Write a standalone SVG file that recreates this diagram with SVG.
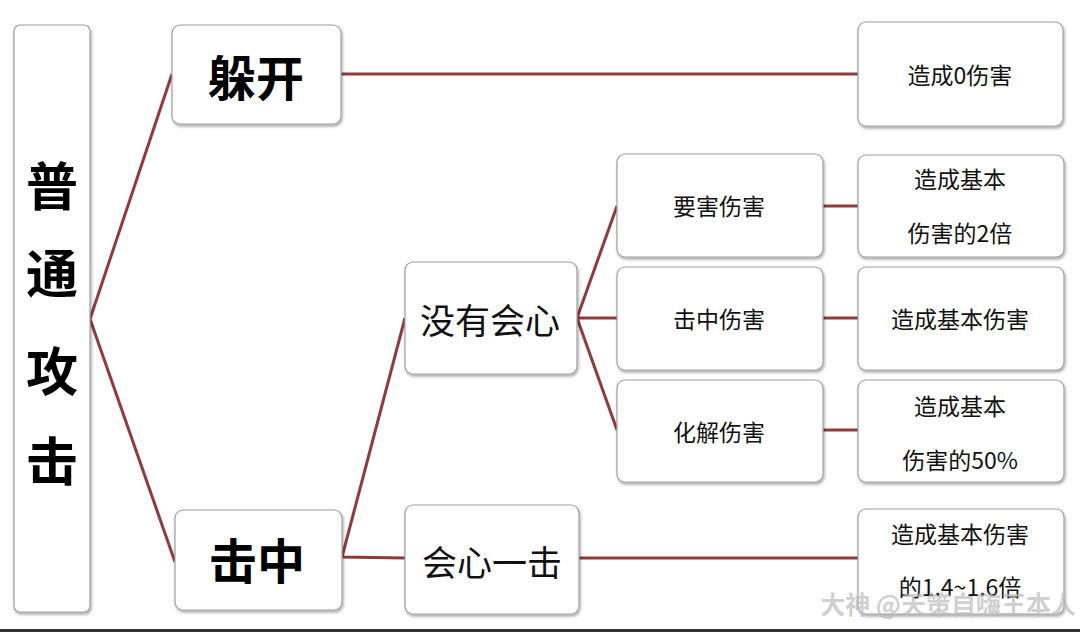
<svg xmlns="http://www.w3.org/2000/svg" width="1080" height="632" viewBox="0 0 1080 632">
<defs>
<filter id="sh" x="-10%" y="-10%" width="120%" height="125%">
<feDropShadow dx="1" dy="2" stdDeviation="1.5" flood-color="#000" flood-opacity="0.35"/>
</filter>
<style>
.box{fill:#fff;stroke:#a0a0a0;stroke-width:1.2;filter:url(#sh)}
.t{font-family:"Noto Sans CJK SC","Noto Sans",sans-serif;fill:#111;text-anchor:middle;dominant-baseline:central}
.b{font-weight:bold;fill:#000}
.s{font-size:23px}
.m{font-size:35px}
.c line,.c polyline{stroke:#8e3b3b;stroke-width:3;fill:none}
</style>
</defs>
<rect width="1080" height="632" fill="#fff"/>
<g class="c" id="connectors">
<polyline points="172,74 90,319 175,562"/>
<line x1="341" y1="74" x2="858" y2="74"/>
<polyline points="405,318 342,557 405,558"/>
<polyline points="617,206 577,318 617,430"/>
<line x1="577" y1="318" x2="617" y2="318"/>
<line x1="823" y1="206" x2="858" y2="206"/>
<line x1="823" y1="318" x2="858" y2="318"/>
<line x1="823" y1="430" x2="858" y2="430"/>
<line x1="579" y1="558" x2="858" y2="558"/>
</g>
<g id="root"><rect class="box" x="14" y="25" width="76" height="587" rx="6"/>
<text class="t b" font-size="52" x="52" y="183">普</text>
<text class="t b" font-size="52" x="52" y="270">通</text>
<text class="t b" font-size="52" x="52" y="368">攻</text>
<text class="t b" font-size="52" x="52" y="458">击</text></g>
<g id="dodge"><rect class="box" x="172" y="25" width="169" height="99" rx="8"/><text class="t b" font-size="48" x="256" y="75">躲开</text></g>
<g id="hit"><rect class="box" x="175" y="510" width="167" height="100" rx="8"/><text class="t b" font-size="48" x="257" y="558">击中</text></g>
<g id="nocrit"><rect class="box" x="405" y="262" width="172" height="112" rx="8"/><text class="t m" x="490" y="318">没有会心</text></g>
<g id="crit"><rect class="box" x="405" y="505" width="174" height="109" rx="8"/><text class="t m" x="492" y="560">会心一击</text></g>
<g id="vital"><rect class="box" x="617" y="154" width="206" height="103" rx="8"/><text class="t s" x="719" y="205">要害伤害</text></g>
<g id="normal"><rect class="box" x="617" y="267" width="206" height="103" rx="8"/><text class="t s" x="719" y="318">击中伤害</text></g>
<g id="resolve"><rect class="box" x="617" y="380" width="206" height="102" rx="8"/><text class="t s" x="719" y="431">化解伤害</text></g>
<g id="r0"><rect class="box" x="858" y="22" width="205" height="104" rx="8"/><text class="t s" x="960" y="74">造成0伤害</text></g>
<g id="r1"><rect class="box" x="858" y="155" width="206" height="102" rx="8"/><text class="t s" x="960" y="178">造成基本</text><text class="t s" x="960" y="232">伤害的2倍</text></g>
<g id="r2"><rect class="box" x="858" y="267" width="206" height="103" rx="8"/><text class="t s" x="960" y="318">造成基本伤害</text></g>
<g id="r3"><rect class="box" x="858" y="380" width="206" height="102" rx="8"/><text class="t s" x="960" y="405">造成基本</text><text class="t s" x="960" y="459">伤害的50%</text></g>
<g id="r4"><rect class="box" x="858" y="509" width="206" height="105" rx="8"/><text class="t s" x="960" y="533">造成基本伤害</text><text class="t s" x="960" y="586">的1.4~1.6倍</text></g>
<text x="1076" y="614" font-family="Noto Sans CJK SC,sans-serif" font-size="25" font-weight="bold" text-anchor="end" fill="#bbb" fill-opacity="0.7">大神 @天策自嗨王本人</text>
<rect x="0" y="629" width="1080" height="3" fill="#333"/>
</svg>
